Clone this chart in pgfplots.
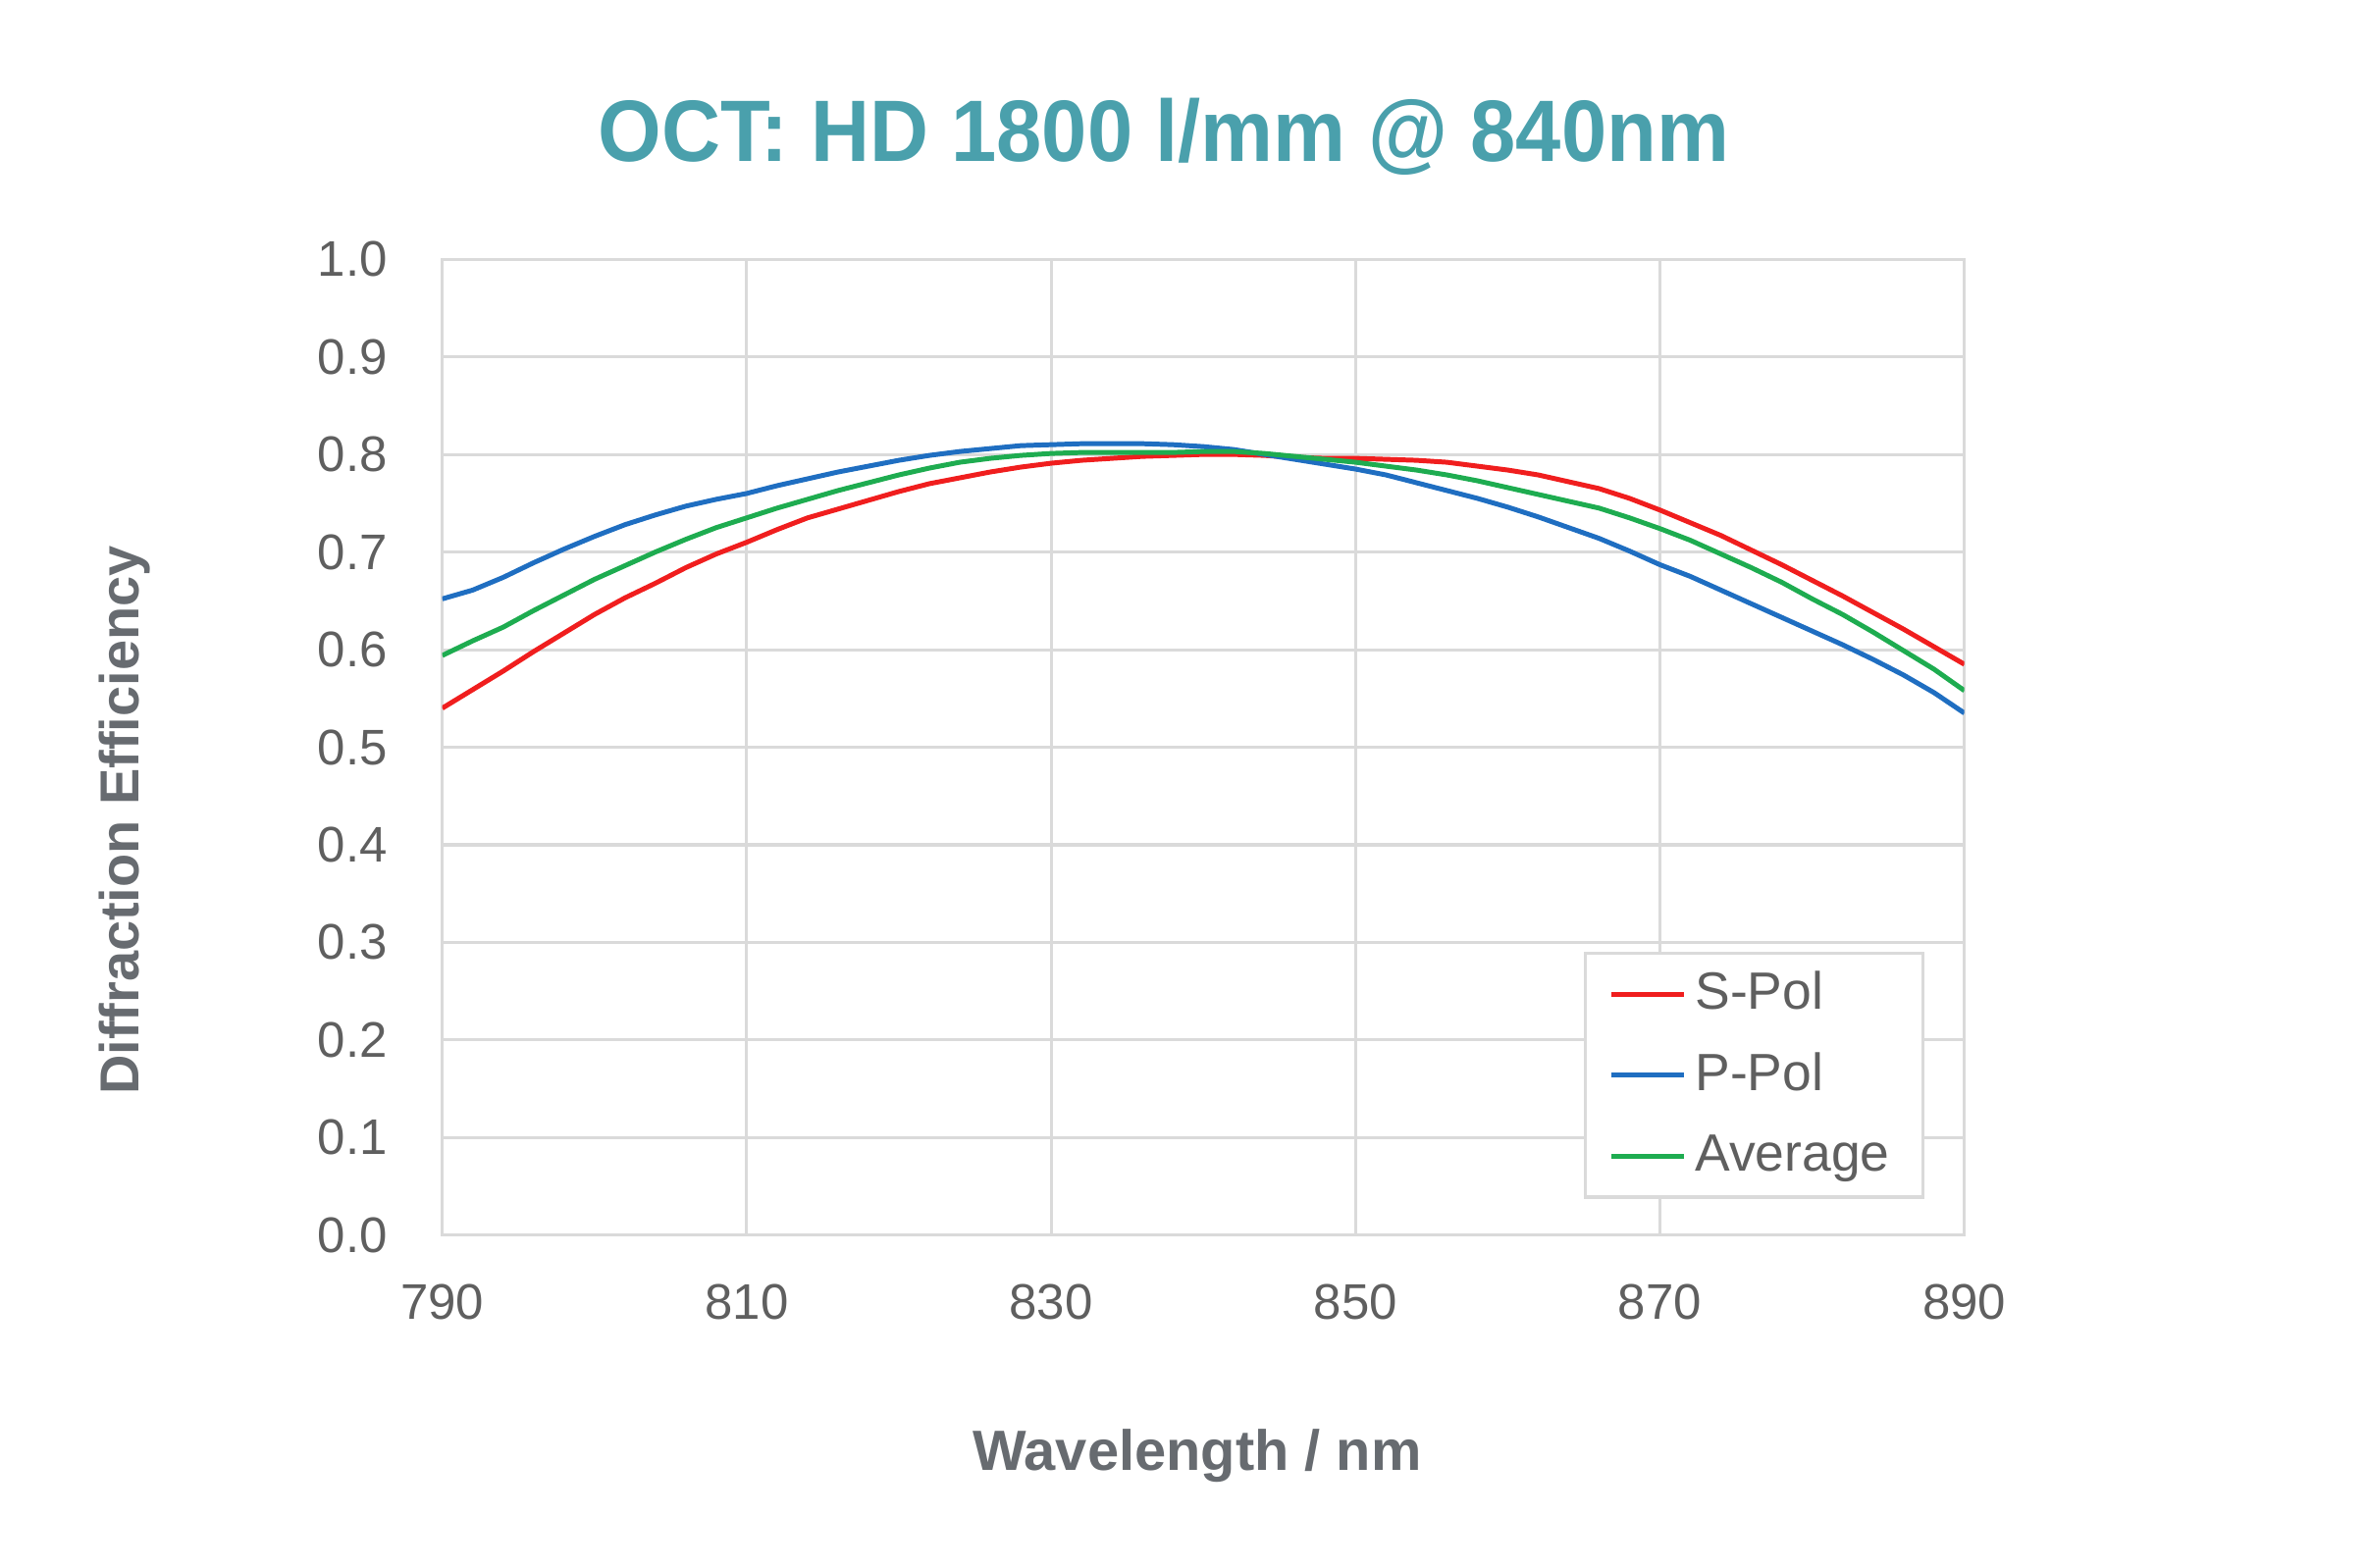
\documentclass[border=0pt]{standalone}
\usepackage{pgfplots}
\pgfplotsset{compat=1.18}
\usepackage{fontspec}
\setmainfont{Liberation Sans}
\definecolor{titlecol}{RGB}{74,160,172}
\definecolor{labcol}{RGB}{103,107,112}
\definecolor{tickcol}{RGB}{95,95,95}
\definecolor{gridcol}{RGB}{218,218,218}
\definecolor{sred}{RGB}{240,30,30}
\definecolor{pblue}{RGB}{31,110,193}
\definecolor{avgreen}{RGB}{30,172,80}

\pgfplotstableread{
x s p a
790 0.540 0.652 0.594
792 0.559 0.661 0.609
794 0.578 0.674 0.623
796 0.598 0.689 0.640
798 0.617 0.703 0.656
800 0.636 0.716 0.672
802 0.653 0.728 0.686
804 0.668 0.738 0.700
806 0.684 0.747 0.713
808 0.698 0.754 0.725
810 0.710 0.760 0.735
812 0.723 0.768 0.745
814 0.735 0.775 0.754
816 0.744 0.782 0.763
818 0.753 0.788 0.771
820 0.762 0.794 0.779
822 0.770 0.799 0.786
824 0.776 0.803 0.792
826 0.782 0.806 0.796
828 0.787 0.809 0.799
830 0.791 0.810 0.801
832 0.794 0.811 0.802
834 0.796 0.811 0.802
836 0.798 0.811 0.802
838 0.799 0.810 0.802
840 0.800 0.808 0.803
842 0.800 0.805 0.803
844 0.799 0.800 0.801
846 0.797 0.795 0.798
848 0.796 0.790 0.795
850 0.796 0.785 0.792
852 0.795 0.779 0.788
854 0.794 0.771 0.784
856 0.792 0.763 0.779
858 0.788 0.755 0.773
860 0.784 0.746 0.766
862 0.779 0.736 0.759
864 0.772 0.725 0.752
866 0.765 0.714 0.745
868 0.755 0.701 0.735
870 0.743 0.687 0.724
872 0.730 0.675 0.712
874 0.717 0.661 0.698
876 0.702 0.647 0.684
878 0.687 0.633 0.669
880 0.671 0.619 0.652
882 0.655 0.605 0.636
884 0.638 0.590 0.618
886 0.621 0.574 0.599
888 0.603 0.556 0.580
890 0.585 0.535 0.558
}\datatable

\begin{document}
\begin{tikzpicture}
\path[use as bounding box] (-72.5pt,-54.4pt) rectangle (315.5pt,202.5pt);
\begin{axis}[
  at={(0,0)}, anchor=south west,
  scale only axis,
  width=249.5pt, height=160pt,
  xmin=790, xmax=890, ymin=0, ymax=1,
  xtick={790,810,...,890},
  ytick={0,0.1,...,1.0},
  /pgf/number format/assume math mode=true,
  yticklabel={\pgfmathprintnumber[fixed,fixed zerofill,precision=1]{\tick}},
  xticklabel={\pgfmathprintnumber[1000 sep={}]{\tick}},
  ticklabel style={font=\fontsize{8.2}{10}\selectfont, text=tickcol},
  yticklabel style={xshift=-5.5pt},
  xticklabel style={yshift=-4.5pt},
  major tick length=0pt,
  grid=major,
  major grid style={draw=gridcol, line width=0.5pt},
  axis line style={draw=gridcol, line width=0.5pt},
  xlabel={\bfseries Wavelength / nm},
  xlabel style={font=\fontsize{9.3}{11}\selectfont, text=labcol, at={(rel axis cs:0.496,0)}, anchor=base, yshift=-38.5pt},
  legend style={
    at={(rel axis cs:0.9739,0.0375)}, anchor=south east,
    draw=gridcol, line width=0.5pt,
    font=\fontsize{8.6}{10}\selectfont, text=tickcol,
    inner xsep=4pt, inner ysep=0.75pt, row sep=1.25pt,
    nodes={inner sep=1.5pt, text height=7pt, text depth=2pt},
  },
  legend cell align=left,
  legend image code/.code={\draw[#1] (0pt,0pt) -- (11.75pt,0pt);},
]
\addplot[sred, line width=0.8pt] table[x=x,y=s] {\datatable};
\addlegendentry{S-Pol}
\addplot[pblue, line width=0.8pt] table[x=x,y=p] {\datatable};
\addlegendentry{P-Pol}
\addplot[avgreen, line width=0.8pt] table[x=x,y=a] {\datatable};
\addlegendentry{Average}
\end{axis}
\node[rotate=90, anchor=center, font=\fontsize{9.0}{11}\selectfont\bfseries, text=labcol] at (-52pt,68pt) {Diffraction Efficiency};
\node[anchor=base, font=\fontsize{14.3}{16}\selectfont\bfseries, text=titlecol] at (118.25pt,176pt) {\scalebox{0.935}[1]{OCT: HD 1800 l/mm @ 840nm}};
\end{tikzpicture}
\end{document}
